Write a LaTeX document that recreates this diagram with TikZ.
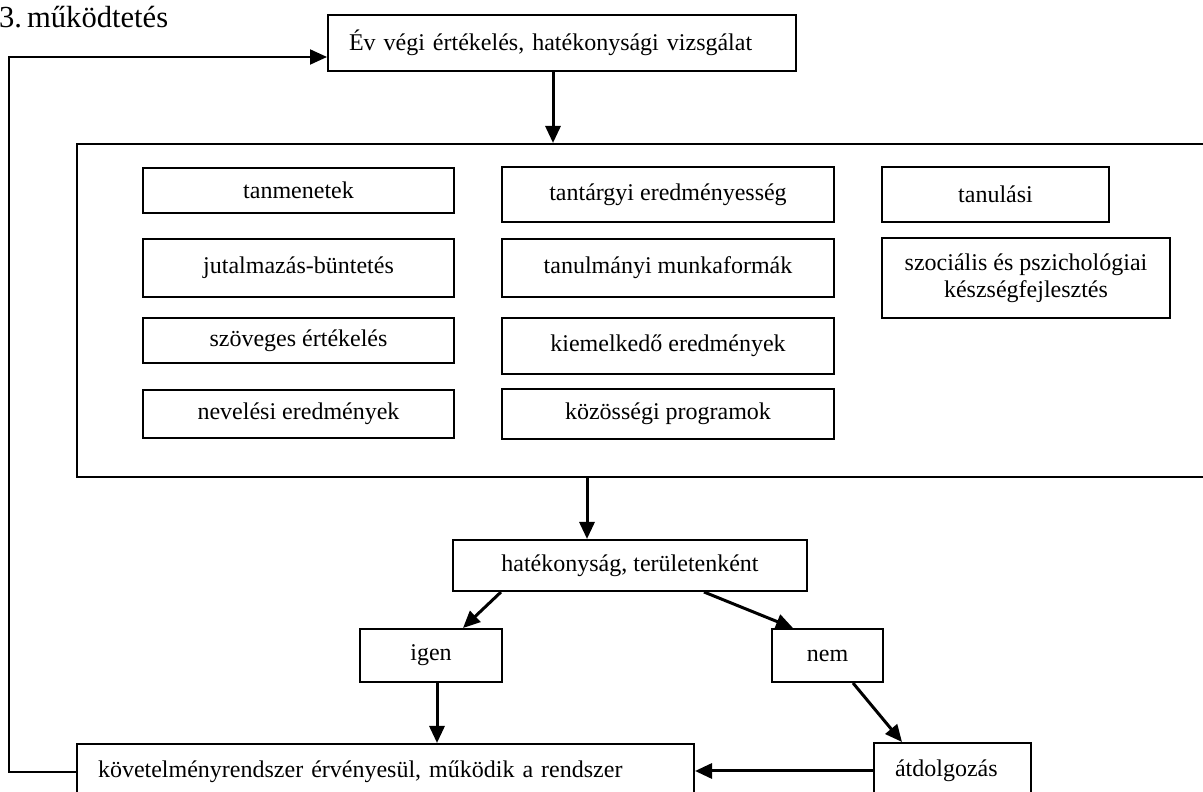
\documentclass[tikz,border=0pt]{standalone}
\usepackage{fontspec}
\setmainfont{Liberation Serif}
\usepackage{tikz}
\usetikzlibrary{arrows.meta, positioning, calc}

\begin{document}
\begin{tikzpicture}[x=1pt, y=1pt,
  doboz/.style={draw, line width=2pt, rectangle, inner sep=0pt, align=center, font=\fontsize{24}{27}\selectfont},
  balra/.style={doboz, align=left, inner xsep=21pt},
  nyil/.style={-{Triangle[length=17pt, width=15pt]}, line width=3pt},
  visszanyil/.style={-{Triangle[length=17pt, width=15pt]}, line width=2pt}]
  \clip (0,0) rectangle (1203,792);
  % title
  \node[anchor=base west, inner sep=0pt, font=\fontsize{30.6}{34}\selectfont] (cim) at (-1,764) {3.\hspace{5pt}működtetés};
  % top box
  \node[balra, text width=426pt, minimum height=56pt] (evvegi) at (562,749) {Év végi értékelés, hatékonysági vizsgálat};
  % frame, cut off on the right
  \node[draw, line width=2pt, minimum width=1150pt, minimum height=333pt] (keret) at (652,481.5) {};
  % areas inside the frame
  \foreach \nev/\x/\y/\w/\h/\szoveg in {
    tanmenet/298.5/601.5/311/45/tanmenetek,
    jutalom/298.5/524/311/58/jutalmazás-büntetés,
    szoveges/298.5/451.5/311/45/szöveges értékelés,
    neveles/298.5/378/311/48/nevelési eredmények,
    tantargy/668/597.5/332/55/tantárgyi eredményesség,
    munkaforma/668/524/332/58/tanulmányi munkaformák,
    kiemelkedo/668/446/332/56/kiemelkedő eredmények,
    kozosseg/668/378/332/50/közösségi programok,
    tanulasi/995.5/597.5/227/55/tanulási,
    szocialis/1026/514/288/80/{szociális és pszichológiai\\készségfejlesztés}} {
    \node[doboz, minimum width=\w pt, minimum height=\h pt] (\nev) at (\x,\y) {\szoveg};
  }
  % decision
  \node[doboz, minimum width=354pt, minimum height=51pt] (hatekony) at (630,226.5) {hatékonyság, területenként};
  \node[doboz, minimum width=142pt, minimum height=53pt] (igen) at (431,136.5) {igen};
  \node[doboz, minimum width=111pt, minimum height=53pt] (nem) at (827.5,136.5) {nem};
  \node[balra, text width=575pt, minimum height=56pt] (kovetelmeny) at (385.5,20) {követelményrendszer érvényesül, működik a rendszer};
  \node[balra, text width=115pt, minimum height=56pt] (atdolgozas) at (952.5,21) {átdolgozás};
  \coordinate (sarok) at (9,735);
  % arrows
  \draw[nyil] ([xshift=-9pt]evvegi.south) -- ([xshift=-9pt]evvegi.south |- keret.north);
  \draw[nyil] ([xshift=-43pt]hatekony.north |- keret.south) -- ([xshift=-43pt]hatekony.north);
  \draw[nyil] ([xshift=49pt]hatekony.south west) -- ([xshift=32pt]igen.north);
  \draw[nyil] ([xshift=-104pt]hatekony.south east) -- ([xshift=-34.5pt]nem.north);
  \draw[nyil] ([xshift=6pt]igen.south) -- ([xshift=6pt]igen.south |- kovetelmeny.north);
  \draw[nyil] ([xshift=25.5pt]nem.south) -- ([xshift=-50.5pt]atdolgozas.north);
  \draw[nyil] (atdolgozas.west) -- (atdolgozas.west -| kovetelmeny.east);
  % back to the top
  \draw[visszanyil] (kovetelmeny.west) -| (sarok) |- ([yshift=-14pt]evvegi.west);
\end{tikzpicture}
\end{document}
